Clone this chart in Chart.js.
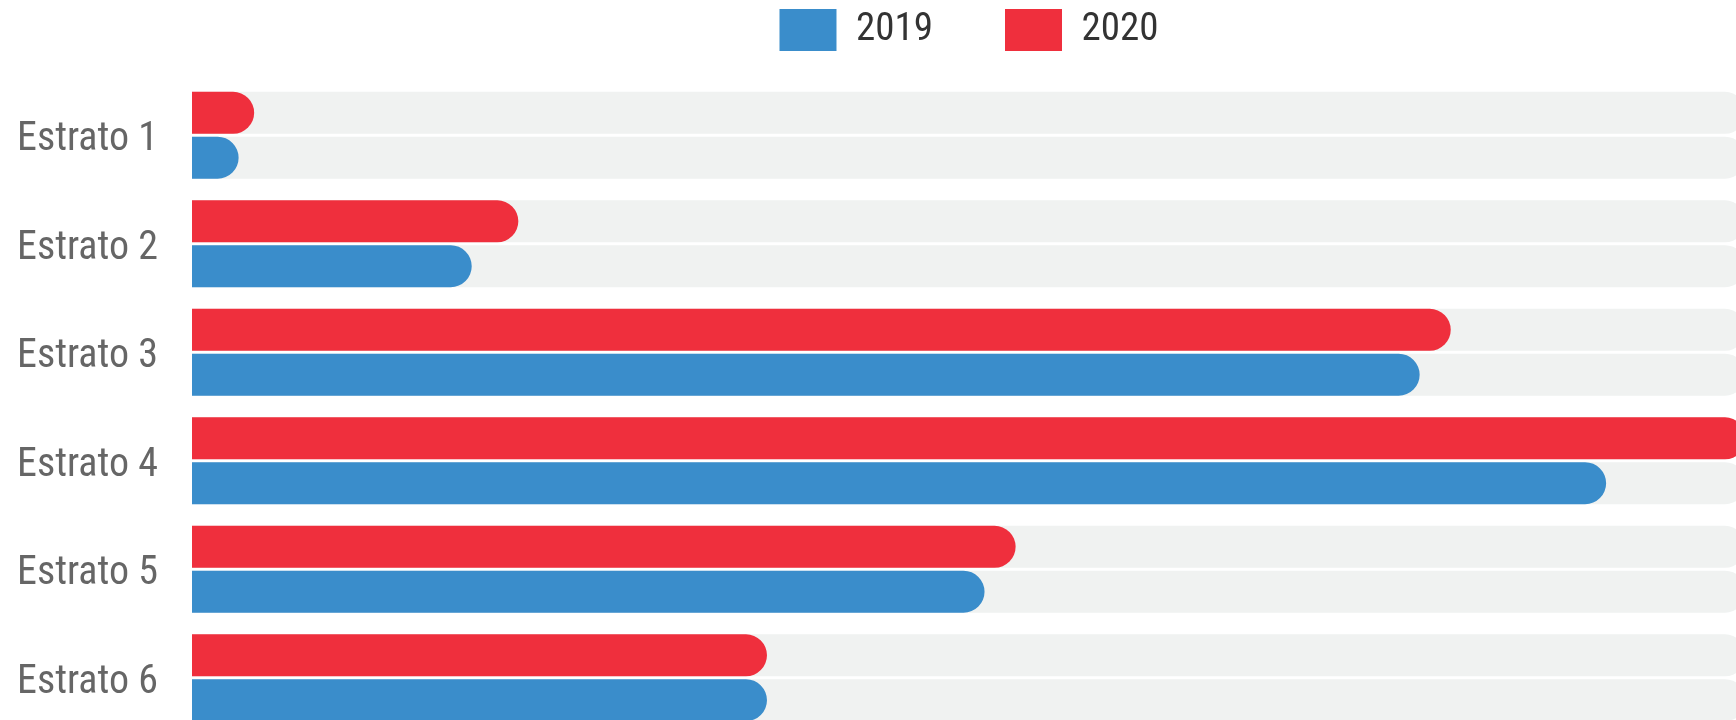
<!DOCTYPE html>
<html>
<head>
<meta charset="utf-8">
<title>Estratos 2019 - 2020</title>
<script src="https://cdn.jsdelivr.net/npm/chart.js@4.4.0/dist/chart.umd.min.js"></script>
<style>
    html, body { margin: 0; padding: 0; background: #fff; overflow: hidden; }
    #wrap { width: 1746px; height: 759px; }
</style>
</head>
<body>
<div id="wrap"><canvas id="myChart" width="1746" height="759"></canvas></div>
<script>
// datos
const categorias = ['Estrato 1', 'Estrato 2', 'Estrato 3', 'Estrato 4', 'Estrato 5', 'Estrato 6'];
const valores2019 = [3, 18, 79, 91, 51, 37];
const valores2020 = [4, 21, 81, 100, 53, 37];
const maximo = 100;

const fuente = "'Roboto Condensed', 'Liberation Sans Narrow', 'Arial Narrow', Roboto, sans-serif";
const azul = '#3a8dcb';
const rojo = '#ef2f3d';
const fondo = '#f0f2f1';

// barras de fondo (mismo largo que el maximo)
const pista = categorias.map(function () { return maximo; });

const ctx = document.getElementById('myChart');

new Chart(ctx, {
    type: 'bar',
    data: {
        labels: categorias,
        datasets: [
            { label: '2020', data: valores2020, backgroundColor: rojo, stack: 'a', order: 0 },
            { label: '2019', data: valores2019, backgroundColor: azul, stack: 'b', order: 0 },
            { label: 'fondo2020', data: pista, backgroundColor: fondo, stack: 'a', order: 1 },
            { label: 'fondo2019', data: pista, backgroundColor: fondo, stack: 'b', order: 1 }
        ]
    },
    options: {
        indexAxis: 'y',
        responsive: false,
        animation: false,
        devicePixelRatio: 1,
        categoryPercentage: 0.829,
        barPercentage: 0.933,
        borderRadius: 21,
        borderSkipped: 'start',
        layout: {
            padding: { top: -63, left: 17, right: 0, bottom: 0 }
        },
        plugins: {
            tooltip: { enabled: false },
            legend: {
                position: 'top',
                fullSize: false,
                reverse: true,
                labels: {
                    filter: function (item) { return item.text === '2019' || item.text === '2020'; },
                    boxWidth: 57,
                    boxHeight: 42,
                    padding: 72,
                    color: '#333',
                    font: { family: fuente, size: 39 }
                }
            }
        },
        scales: {
            x: {
                position: 'top',
                min: 0,
                max: maximo,
                stacked: false,
                grid: { display: false },
                border: { display: false },
                ticks: { display: false },
                afterFit: function (scale) { scale.height = 20; }
            },
            y: {
                stacked: true,
                grid: { display: false },
                border: { display: false },
                ticks: {
                    crossAlign: 'far',
                    labelOffset: 5,
                    color: '#666',
                    font: { family: fuente, size: 40 }
                },
                afterFit: function (scale) { scale.width = 175; }
            }
        }
    }
});
</script>
</body>
</html>
